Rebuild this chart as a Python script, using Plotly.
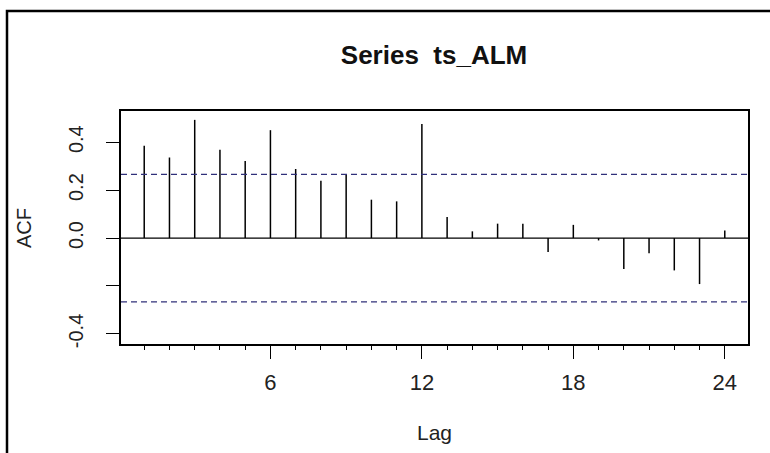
import plotly.graph_objects as go

# Sample autocorrelations of ts_ALM by lag
lags = list(range(1, 25))
acf_vals = [0.385, 0.336, 0.493, 0.368, 0.321, 0.450, 0.288, 0.239,
            0.264, 0.160, 0.153, 0.476, 0.088, 0.028, 0.060, 0.060,
            -0.058, 0.055, -0.010, -0.129, -0.063, -0.135, -0.192, 0.032]
conf_limit = 0.266

x_ticks = [6, 12, 18, 24]
y_ticks = [-0.4, -0.2, 0.0, 0.2, 0.4]
y_tick_text = ["-0.4", "", "0.0", "0.2", "0.4"]

W, H = 770, 453
ML, MR, MT, MB = 121, 22, 111, 109
pw, ph = W - ML - MR, H - MT - MB
X_RANGE = [0.08, 24.92]


def px_x(px):
    return (px - ML) / pw


def px_y(py):
    return (H - MB - py) / ph


FONT = "Liberation Sans, Arial, sans-serif"

# vertical spikes from zero to each autocorrelation
sx, sy = [], []
for lag, v in zip(lags, acf_vals):
    sx += [lag, lag, None]
    sy += [0, v, None]

fig = go.Figure()
fig.add_trace(go.Scatter(x=sx, y=sy, mode="lines",
                         line=dict(color="black", width=1.5),
                         hoverinfo="skip", showlegend=False))
# invisible trace so the overlaid minor-tick axis is drawn
fig.add_trace(go.Scatter(x=[lags[0]], y=[0], xaxis="x2", mode="markers",
                         marker=dict(opacity=0), hoverinfo="skip",
                         showlegend=False))

shapes = [
    # zero line
    dict(type="line", xref="paper", x0=0, x1=1, yref="y", y0=0, y1=0,
         line=dict(color="black", width=1.3)),
    # confidence bounds
    dict(type="line", xref="paper", x0=0, x1=1, yref="y",
         y0=conf_limit, y1=conf_limit,
         line=dict(color="#30307a", width=1.3, dash="6px,4px")),
    dict(type="line", xref="paper", x0=0, x1=1, yref="y",
         y0=-conf_limit, y1=-conf_limit,
         line=dict(color="#30307a", width=1.3, dash="6px,4px")),
    # outer frame of the figure
    dict(type="rect", xref="paper", yref="paper",
         x0=px_x(7), x1=px_x(790), y0=px_y(480), y1=px_y(11),
         line=dict(color="black", width=2.5), layer="below"),
]

minor_lags = [lag for lag in lags if lag not in x_ticks]

fig.update_layout(
    width=W, height=H,
    margin=dict(l=ML, r=MR, t=MT, b=MB),
    paper_bgcolor="white", plot_bgcolor="white",
    font=dict(family=FONT, color="#111111"),
    title=dict(text="<b>Series  ts_ALM</b>", x=434 / W,
               xanchor="center", xref="container",
               y=1 - 55 / H, yanchor="middle", yref="container",
               font=dict(size=26, family=FONT, color="#111111")),
    shapes=shapes,
    annotations=[
        dict(text="Lag", xref="paper", yref="paper", x=0.5, y=px_y(432),
             xanchor="center", yanchor="middle", showarrow=False,
             font=dict(size=21, family=FONT, color="#222222")),
        dict(text="ACF", xref="paper", yref="paper", x=px_x(24), y=px_y(228),
             xanchor="center", yanchor="middle", showarrow=False,
             textangle=-90,
             font=dict(size=20, family=FONT, color="#222222")),
    ],
    showlegend=False,
    xaxis=dict(
        range=X_RANGE, tickmode="array", tickvals=x_ticks,
        ticktext=[str(t) for t in x_ticks],
        ticks="outside", ticklen=13, tickwidth=1.3, tickcolor="black",
        tickfont=dict(size=22, family=FONT, color="#222222"),
        ticklabelstandoff=5,
        showline=True, linecolor="black", linewidth=1.5, mirror=True,
        showgrid=False, zeroline=False,
    ),
    # short ticks at the unlabelled lags
    xaxis2=dict(overlaying="x", anchor="y", side="bottom", range=X_RANGE,
                tickmode="array", tickvals=minor_lags, ticks="outside",
                ticklen=4.5, tickwidth=1.3, tickcolor="black",
                showticklabels=False,
                showline=True, linecolor="black", linewidth=1.5,
                showgrid=False, zeroline=False),
    yaxis=dict(
        range=[-0.442, 0.530], tickmode="array", tickvals=y_ticks,
        ticktext=y_tick_text,
        ticks="outside", ticklen=13, tickwidth=1.3, tickcolor="black",
        tickangle=-90, tickfont=dict(size=20, family=FONT, color="#222222"),
        ticklabelstandoff=15,
        showline=True, linecolor="black", linewidth=1.5, mirror=True,
        showgrid=False, zeroline=False,
    ),
)

fig.write_html("out.html")
